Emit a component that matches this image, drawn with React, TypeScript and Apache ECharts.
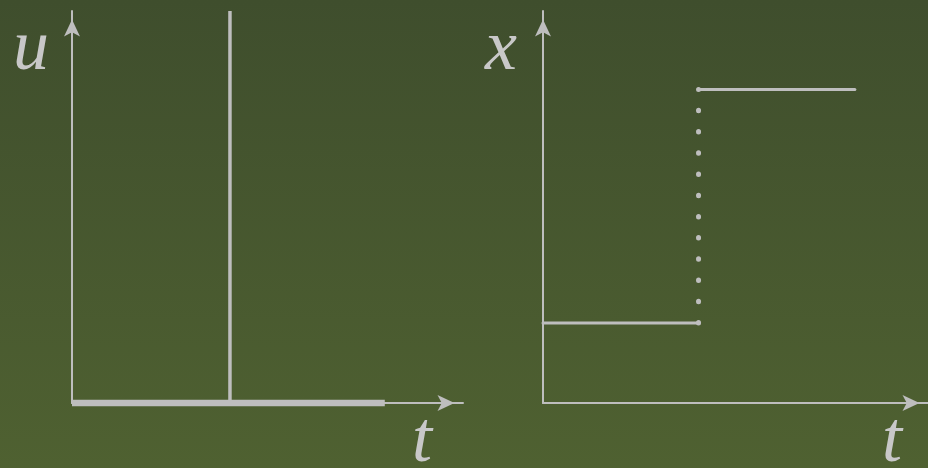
import React, { useEffect, useRef } from "react";
import * as echarts from "echarts";

// Left panel: impulse input u(t)
const uBaseline: number[][] = [[0, 0], [8, 0]];
const uImpulse: number[][] = [[4.04, 0], [4.04, 10]];
// Right panel: step response x(t)
const xLow: number[][] = [[0, 2.04], [4.04, 2.04]];
const xJump: number[][] = [[4.04, 2.04], [4.04, 8.0]];
const xHigh: number[][] = [[4.04, 8.0], [8.1, 8.0]];
// Axis labels
const axisNames = { leftY: "u", leftX: "t", rightY: "x", rightX: "t" };

const LINE = "#bebebe";
const TEXT = "#c8c8c8";
const FONT = "italic 72px 'Liberation Serif', 'DejaVu Serif', serif";

export default function App() {
  const ref = useRef<HTMLDivElement>(null);
  useEffect(() => {
    document.body.style.margin = "0";
    if (!ref.current) return;
    const chart = echarts.init(ref.current, undefined, { renderer: "svg" });
    const axisLine = {
      show: true,
      onZero: true,
      symbol: ["none", "arrow"],
      symbolSize: [12, 17],
      symbolOffset: [0, -8.5],
      lineStyle: { color: LINE, width: 2 },
    };
    const common = {
      type: "value" as const,
      min: 0,
      max: 10,
      axisLine,
      axisTick: { show: false },
      axisLabel: { show: false },
      splitLine: { show: false },
    };
    const seg = (data: number[][], idx: number, width: number, cap: string, type: any = "solid") => ({
      type: "line",
      xAxisIndex: idx,
      yAxisIndex: idx,
      data,
      symbol: "none",
      showSymbol: false,
      clip: false,
      silent: true,
      lineStyle: { color: LINE, width, cap, type },
    });
    chart.setOption({
      animation: false,
      backgroundColor: {
        type: "linear",
        x: 0,
        y: 0,
        x2: 0,
        y2: 1,
        colorStops: [
          { offset: 0, color: "#3f4e2d" },
          { offset: 1, color: "#4f6131" },
        ],
      },
      grid: [
        { left: 72, top: 11, width: 391, bottom: 65 },
        { left: 543, top: 11, width: 385, bottom: 65 },
      ],
      xAxis: [
        { ...common, gridIndex: 0 },
        { ...common, gridIndex: 1 },
      ],
      yAxis: [
        { ...common, gridIndex: 0 },
        { ...common, gridIndex: 1 },
      ],
      series: [
        seg(uImpulse, 0, 3.5, "butt"),
        seg(uBaseline, 0, 6.5, "butt"),
        seg(xLow, 1, 3, "round"),
        seg(xHigh, 1, 3, "round"),
        seg(xJump, 1, 5, "round", [0.5, 20.73]),
      ],
      graphic: [
        { type: "text", x: 13, y: 45, style: { text: axisNames.leftY, font: FONT, fill: TEXT, textAlign: "left", textVerticalAlign: "middle" } },
        { type: "text", x: 485, y: 45, style: { text: axisNames.rightY, font: FONT, fill: TEXT, textAlign: "left", textVerticalAlign: "middle" } },
        { type: "text", x: 412, y: 437, style: { text: axisNames.leftX, font: FONT, fill: TEXT, textAlign: "left", textVerticalAlign: "middle" } },
        { type: "text", x: 882, y: 437, style: { text: axisNames.rightX, font: FONT, fill: TEXT, textAlign: "left", textVerticalAlign: "middle" } },
      ],
    });
    return () => chart.dispose();
  }, []);
  return <div ref={ref} style={{ width: 928, height: 468 }} />;
}
